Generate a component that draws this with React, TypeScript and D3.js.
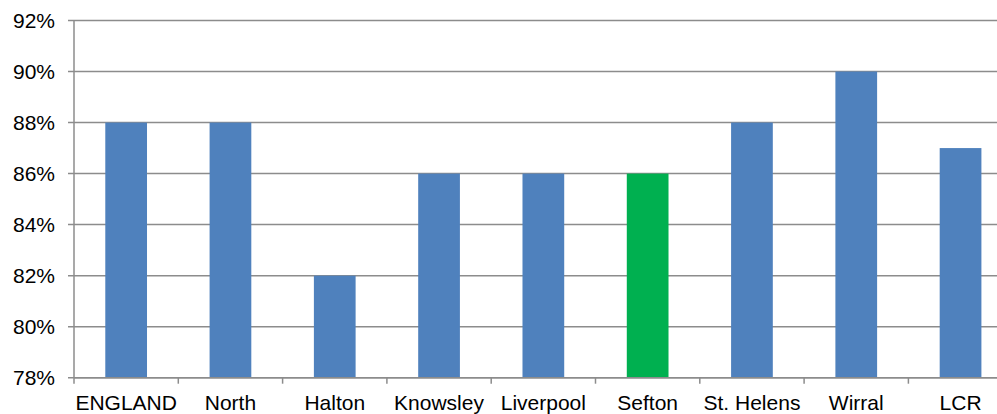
import React from "react";
import * as d3 from "d3";

const categories = ["ENGLAND", "North", "Halton", "Knowsley", "Liverpool", "Sefton", "St. Helens", "Wirral", "LCR"];
const values = [88, 88, 82, 86, 86, 86, 88, 90, 87];
const highlight = ["Sefton"];
const yTicks = [78, 80, 82, 84, 86, 88, 90, 92];

const W = 997;
const H = 414;
const left = 74;
const bandStep = 104.3;
const top = 20.5;
const bottom = 377.7;

export default function App() {
  const x = d3
    .scaleBand<string>()
    .domain(categories)
    .range([left, left + bandStep * categories.length])
    .paddingInner(0.6)
    .paddingOuter(0.3);
  const y = d3.scaleLinear().domain([78, 92]).range([bottom, top]);
  const font = "'Liberation Sans', Arial, sans-serif";
  const grid = "#8c8c8c";
  const fs = 21;

  return (
    <div style={{ position: "absolute", left: 0, top: 0 }}>
      <svg width={W} height={H} style={{ display: "block" }}>
        <rect x={0} y={0} width={W} height={H} fill="#fff" />
        {yTicks.map((t) => (
          <g key={t}>
            <line x1={68} x2={W} y1={y(t)} y2={y(t)} stroke={grid} strokeWidth={1.5} />
            <text
              x={55}
              y={y(t)}
              dy="0.36em"
              textAnchor="end"
              fontFamily={font}
              fontSize={fs}
              fill="#000"
            >
              {t}%
            </text>
          </g>
        ))}
        {categories.map((c, i) => (
          <rect
            key={c}
            x={x(c)}
            y={y(values[i])}
            width={x.bandwidth()}
            height={bottom - y(values[i])}
            fill={highlight.includes(c) ? "#00B050" : "#4F81BD"}
          />
        ))}
        <line x1={left} x2={left} y1={top} y2={bottom + 6} stroke={grid} strokeWidth={1.5} />
        <line x1={left} x2={W} y1={bottom} y2={bottom} stroke={grid} strokeWidth={1.5} />
        {categories.map((c, i) => (
          <line
            key={"t" + c}
            x1={left + bandStep * (i + 1)}
            x2={left + bandStep * (i + 1)}
            y1={bottom}
            y2={bottom + 6}
            stroke={grid}
            strokeWidth={1.5}
          />
        ))}
        {categories.map((c) => (
          <text
            key={"l" + c}
            x={(x(c) as number) + x.bandwidth() / 2}
            y={410}
            textAnchor="middle"
            fontFamily={font}
            fontSize={fs}
            fill="#000"
          >
            {c}
          </text>
        ))}
      </svg>
    </div>
  );
}
